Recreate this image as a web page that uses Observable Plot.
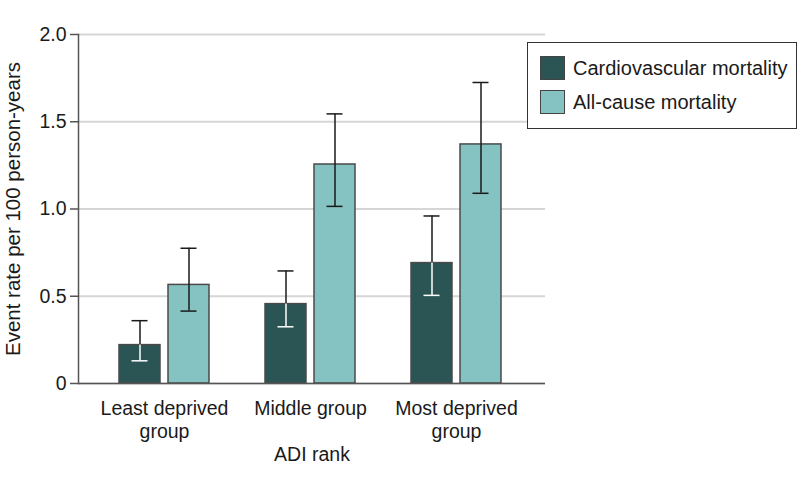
<!DOCTYPE html>
<html>
<head>
<meta charset="utf-8">
<script src="https://cdn.jsdelivr.net/npm/d3@7"></script>
<script src="https://cdn.jsdelivr.net/npm/@observablehq/plot@0.6"></script>
<style>
  html, body { margin: 0; padding: 0; background: #fff; }
  #wrap { position: relative; width: 798px; height: 482px; font-family: "Liberation Sans", "DejaVu Sans", sans-serif; color: #1a1a1a; }
  #legend { position: absolute; left: 527px; top: 42px; width: 268px; height: 85px; border: 1.5px solid #333; background: #fff; box-sizing: content-box; }
  .item { position: absolute; left: 12px; display: flex; align-items: center; font-size: 20px; }
  .sw { width: 23px; height: 22px; border: 1.5px solid #444; margin-right: 8px; }
</style>
</head>
<body>
<div id="wrap">
  <div id="chart"></div>
  <div id="legend"></div>
</div>
<script>
// ---- data ----
const groups = ["Least deprived group", "Middle group", "Most deprived group"];
const groupLabels = ["Least deprived\ngroup", "Middle group", "Most deprived\ngroup"];
const series = ["Cardiovascular mortality", "All-cause mortality"];
const seriesColors = ["#2b5454", "#85c2c2"];
const cvRate = [0.22, 0.455, 0.69];
const cvLow  = [0.13, 0.325, 0.505];
const cvHigh = [0.36, 0.645, 0.96];
const acRate = [0.565, 1.255, 1.37];
const acLow  = [0.415, 1.015, 1.09];
const acHigh = [0.775, 1.545, 1.725];
const yTicks = [0, 0.5, 1.0, 1.5, 2.0];
const xTitle = "ADI rank";
const yTitle = "Event rate per 100 person-years";

const cv = groups.map((g, i) => ({group: g, rate: cvRate[i], low: cvLow[i], high: cvHigh[i]}));
const ac = groups.map((g, i) => ({group: g, rate: acRate[i], low: acLow[i], high: acHigh[i]}));

const barStroke = "#4a4a4a";
const errColor = "#1a1a1a";

const chart = Plot.plot({
  width: 798,
  height: 482,
  marginLeft: 78,
  marginRight: 253,
  marginTop: 34,
  marginBottom: 99,
  style: {fontSize: "19.5px", fontFamily: "Liberation Sans, DejaVu Sans, sans-serif", color: "#1a1a1a", background: "#fff"},
  x: {domain: groups, paddingInner: 0.381, paddingOuter: 0.279, align: 0.49},
  y: {domain: [0, 2]},
  marks: [
    Plot.gridY(yTicks, {stroke: "#d6d6d6", strokeOpacity: 1, strokeWidth: 2}),
    Plot.barY(cv, {x: "group", y: "rate", fill: seriesColors[0], stroke: barStroke, strokeWidth: 1.5, insetRight: 49}),
    Plot.barY(ac, {x: "group", y: "rate", fill: seriesColors[1], stroke: barStroke, strokeWidth: 1.5, insetLeft: 49}),
    // cardiovascular error bars: upper part black, part inside bar white
    Plot.ruleX(cv, {x: "group", y1: "rate", y2: "high", dx: -24.5, stroke: errColor, strokeWidth: 1.5}),
    Plot.ruleX(cv, {x: "group", y1: "low", y2: "rate", dx: -24.5, stroke: "#ffffff", strokeWidth: 1.5}),
    Plot.tickY(cv, {x: "group", y: "high", insetLeft: 12.5, insetRight: 61.5, stroke: errColor, strokeWidth: 1.5}),
    Plot.tickY(cv, {x: "group", y: "low", insetLeft: 12.5, insetRight: 61.5, stroke: "#ffffff", strokeWidth: 1.5}),
    // all-cause error bars
    Plot.ruleX(ac, {x: "group", y1: "low", y2: "high", dx: 24.5, stroke: errColor, strokeWidth: 1.5}),
    Plot.tickY(ac, {x: "group", y: "high", insetLeft: 61.5, insetRight: 12.5, stroke: errColor, strokeWidth: 1.5}),
    Plot.tickY(ac, {x: "group", y: "low", insetLeft: 61.5, insetRight: 12.5, stroke: errColor, strokeWidth: 1.5}),
    Plot.ruleY([0], {stroke: "#555", strokeWidth: 1.5}),
    Plot.frame({anchor: "left", stroke: "#555", strokeWidth: 1.5}),
    Plot.axisY({ticks: yTicks, tickFormat: d => d === 0 ? "0" : d.toFixed(1), tickSize: 8, tickPadding: 4,
      stroke: "#555", strokeWidth: 1.5, label: null}),
    Plot.axisY({ticks: [], tickSize: 0, fontSize: 20.5,
      label: yTitle, labelArrow: "none", labelAnchor: "center", labelOffset: 73}),
    Plot.axisX({tickSize: 0, tickPadding: 15, lineHeight: 1.18,
      tickFormat: d => groupLabels[groups.indexOf(d)],
      label: xTitle, labelArrow: "none", labelAnchor: "center", labelOffset: 77})
  ]
});
document.getElementById("chart").appendChild(chart);

// legend
const legend = document.getElementById("legend");
series.forEach((s, i) => {
  const item = document.createElement("div");
  item.className = "item";
  item.style.top = (13 + i * 34) + "px";
  const sw = document.createElement("div");
  sw.className = "sw";
  sw.style.background = seriesColors[i];
  const label = document.createElement("span");
  label.textContent = s;
  item.appendChild(sw);
  item.appendChild(label);
  legend.appendChild(item);
});
</script>
</body>
</html>
